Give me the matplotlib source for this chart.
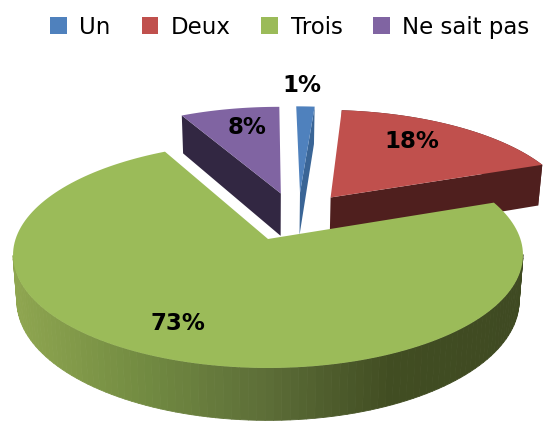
import numpy as np
import matplotlib
matplotlib.use('Agg')
import matplotlib.pyplot as plt
from matplotlib.patches import Polygon
from matplotlib.collections import PolyCollection
from matplotlib.colors import LinearSegmentedColormap

labels = ['Un', 'Deux', 'Trois', 'Ne sait pas']
values = [1.4, 18, 73, 7.6]
pct_text = ['1%', '18%', '73%', '8%']
colors = ['#4F81BD', '#C0504D', '#9BBB59', '#8064A2']
wall_colors = ['#3A6596', '#4F1F1E', '#5D6E38', '#322742']

# projection of the pie disk on the page (pixels), origin = apex of the big slice
CX, CY = 268, 239
AX_X, AX_Y = 252.4, 110.7
PERSP = 0.1416
DEPTH = 45
EXPLODE = 0.27
EXPLODE_Y = 0.85
NUDGE_X = [0.025, 0, 0, 0.02]


def project(X, Y, low=False):
    s = 1 + PERSP * Y
    x = AX_X * X / s
    y = CY - AX_Y * Y / s
    if low:
        # bottom face sits a bit further from the eye
        return CX + x * 0.985, y + DEPTH / s
    return CX + x, y


def slice_outline(start, end, ox, oy, low=False):
    ang = np.radians(np.linspace(start, end, 160))
    return project(ox + np.sin(ang), oy + np.cos(ang), low)


fig = plt.figure(figsize=(5.45, 4.23), dpi=100)
ax = fig.add_axes([0, 0, 1, 1])
ax.set_xlim(0, 545)
ax.set_ylim(423, 0)
ax.axis('off')

# angles run clockwise from north
bounds = np.concatenate([[0], np.cumsum(values)]) * 3.6
mids = (bounds[:-1] + bounds[1:]) / 2
big = int(np.argmax(values))
ref = np.sin(np.radians(mids[big])), np.cos(np.radians(mids[big]))

green_ramp = LinearSegmentedColormap.from_list(
    'wall', ['#8FA650', '#738C42', '#5D6E38', '#414D22', '#3F4A22'])

# back slices first, the big one goes over the others
for i in [3, 0, 1, 2]:
    a0, a1 = bounds[i], bounds[i + 1]
    ox = EXPLODE * (np.sin(np.radians(mids[i])) - ref[0]) + NUDGE_X[i]
    oy = EXPLODE * EXPLODE_Y * (np.cos(np.radians(mids[i])) - ref[1])
    xt, yt = slice_outline(a0, a1, ox, oy)
    xb, yb = slice_outline(a0, a1, ox, oy, low=True)
    ax_t, ay_t = project(ox, oy)
    ax_b, ay_b = project(ox, oy, low=True)

    if i == big:
        # only the front of the rim shows, from right extreme to left extreme
        k0, k1 = int(np.argmax(xt)), int(np.argmin(xt))
        quads = [[(xt[k], yt[k]), (xt[k + 1], yt[k + 1]), (xb[k + 1], yb[k + 1]), (xb[k], yb[k])]
                 for k in range(k0, k1)]
        shade = green_ramp((xt[k0:k1] - xt.min()) / (xt.max() - xt.min()))
        ax.add_collection(PolyCollection(quads, facecolors=shade, edgecolors=shade, linewidths=0.6))
    else:
        # the cut face that looks to the viewer
        k = 0 if i == 3 else -1
        ax.add_patch(Polygon([(ax_t, ay_t), (xt[k], yt[k]), (xb[k], yb[k]), (ax_b, ay_b)],
                             facecolor=wall_colors[i], edgecolor='none'))
        if i == 1:
            ax.add_patch(Polygon(np.r_[np.c_[xt, yt], np.c_[xb, yb][::-1]],
                                 facecolor=wall_colors[i], edgecolor='none'))

    top = np.r_[[[ax_t, ay_t]], np.c_[xt, yt]]
    ax.add_patch(Polygon(top, facecolor=colors[i], edgecolor='none'))

pct_xy = [(302, 85), (412, 142), (178, 323), (247, 127)]
for txt, (px, py) in zip(pct_text, pct_xy):
    ax.text(px, py, txt, ha='center', va='center', fontsize=16.5, fontweight='bold',
            family='DejaVu Sans', color='black')

handles = [plt.Rectangle((0, 0), 1, 1, facecolor=c, edgecolor='none') for c in colors]
ax.legend(handles, labels, ncol=4, loc='upper center', bbox_to_anchor=(0.532, 1.012), frameon=False,
          fontsize=16.5, handlelength=0.72, handleheight=0.72, handletextpad=0.55,
          columnspacing=1.35)

fig.savefig('out.png', dpi=100)
